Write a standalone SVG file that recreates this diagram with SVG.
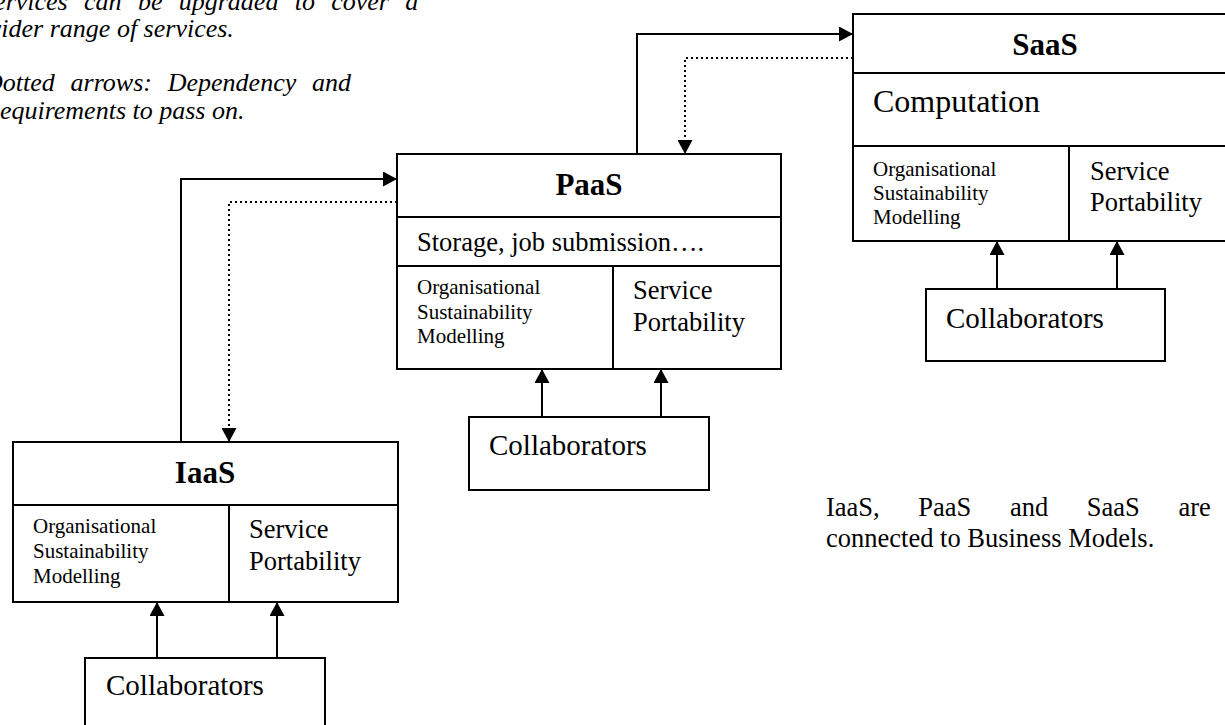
<svg xmlns="http://www.w3.org/2000/svg" width="1225" height="725" viewBox="0 0 1225 725">
<style>
.box{fill:#fff;stroke:#000;stroke-width:2}
.ln{fill:none;stroke:#000;stroke-width:2}
.t{font-family:"Liberation Serif","Times New Roman",serif;fill:#000}
.title{font-size:31px;font-weight:bold;text-anchor:middle}
.org{font-size:21px}
.sp{font-size:26.5px}
.col{font-size:29px}
.note{font-size:26px;font-style:italic}
.conn{fill:none;stroke:#000;stroke-width:2}
.dot{stroke-dasharray:2 3}
</style>
<defs>
<marker id="ah" markerUnits="userSpaceOnUse" markerWidth="15" markerHeight="15" viewBox="0 0 14 15" refX="14" refY="7.5" orient="auto">
<path d="M0,0 L14,7.5 L0,15 z" fill="#000"/>
</marker>
</defs>
<rect width="1225" height="725" fill="#fff"/>

<g id="notes" class="t note">
<text x="-16" y="10" word-spacing="9.8">services can be upgraded to cover a</text>
<text x="-16" y="37">wider range of services.</text>
<text x="-16" y="91" word-spacing="9.3">Dotted arrows: Dependency and</text>
<text x="-16" y="119">Requirements to pass on.</text>
</g>

<g id="business-note" class="t sp">
<text x="826" y="516" word-spacing="32">IaaS, PaaS and SaaS are</text>
<text x="826" y="547">connected to Business Models.</text>
</g>

<g id="saas">
<rect class="box" x="853" y="14" width="384" height="227"/>
<line class="ln" x1="853" y1="73" x2="1237" y2="73"/>
<line class="ln" x1="853" y1="146" x2="1237" y2="146"/>
<line class="ln" x1="1069" y1="146" x2="1069" y2="241"/>
<text class="t title" x="1045" y="55">SaaS</text>
<text class="t" x="873" y="112" font-size="32">Computation</text>
<text class="t org" x="873" y="176">Organisational</text>
<text class="t org" x="873" y="200">Sustainability</text>
<text class="t org" x="873" y="224">Modelling</text>
<text class="t sp" x="1090" y="180">Service</text>
<text class="t sp" x="1090" y="211">Portability</text>
</g>

<g id="saas-collab">
<rect class="box" x="926" y="289" width="239" height="72"/>
<text class="t col" x="946" y="328">Collaborators</text>
</g>

<g id="paas">
<rect class="box" x="397" y="154" width="384" height="215"/>
<line class="ln" x1="397" y1="217" x2="781" y2="217"/>
<line class="ln" x1="397" y1="266" x2="781" y2="266"/>
<line class="ln" x1="613" y1="266" x2="613" y2="369"/>
<text class="t title" x="589" y="195">PaaS</text>
<text class="t sp" x="417" y="251">Storage, job submission….</text>
<text class="t org" x="417" y="294">Organisational</text>
<text class="t org" x="417" y="319">Sustainability</text>
<text class="t org" x="417" y="343">Modelling</text>
<text class="t sp" x="633" y="299">Service</text>
<text class="t sp" x="633" y="331">Portability</text>
</g>

<g id="paas-collab">
<rect class="box" x="469" y="417" width="240" height="73"/>
<text class="t col" x="489" y="455">Collaborators</text>
</g>

<g id="iaas">
<rect class="box" x="13" y="442" width="385" height="160"/>
<line class="ln" x1="13" y1="505" x2="398" y2="505"/>
<line class="ln" x1="229" y1="505" x2="229" y2="602"/>
<text class="t title" x="205" y="483">IaaS</text>
<text class="t org" x="33" y="533">Organisational</text>
<text class="t org" x="33" y="558">Sustainability</text>
<text class="t org" x="33" y="583">Modelling</text>
<text class="t sp" x="249" y="538">Service</text>
<text class="t sp" x="249" y="570">Portability</text>
</g>

<g id="iaas-collab">
<rect class="box" x="85" y="658" width="240" height="80"/>
<text class="t col" x="106" y="695">Collaborators</text>
</g>

<g id="connectors">
<polyline class="conn" points="181,442 181,179 397,179" marker-end="url(#ah)"/>
<polyline class="conn dot" points="397,202 229,202 229,442" marker-end="url(#ah)"/>
<polyline class="conn" points="637,154 637,34 853,34" marker-end="url(#ah)"/>
<polyline class="conn dot" points="853,58 685,58 685,154" marker-end="url(#ah)"/>
<line class="conn" x1="542" y1="417" x2="542" y2="369" marker-end="url(#ah)"/>
<line class="conn" x1="661" y1="417" x2="661" y2="369" marker-end="url(#ah)"/>
<line class="conn" x1="997" y1="289" x2="997" y2="241" marker-end="url(#ah)"/>
<line class="conn" x1="1117" y1="289" x2="1117" y2="241" marker-end="url(#ah)"/>
<line class="conn" x1="157" y1="658" x2="157" y2="602" marker-end="url(#ah)"/>
<line class="conn" x1="277" y1="658" x2="277" y2="602" marker-end="url(#ah)"/>
</g>
</svg>
